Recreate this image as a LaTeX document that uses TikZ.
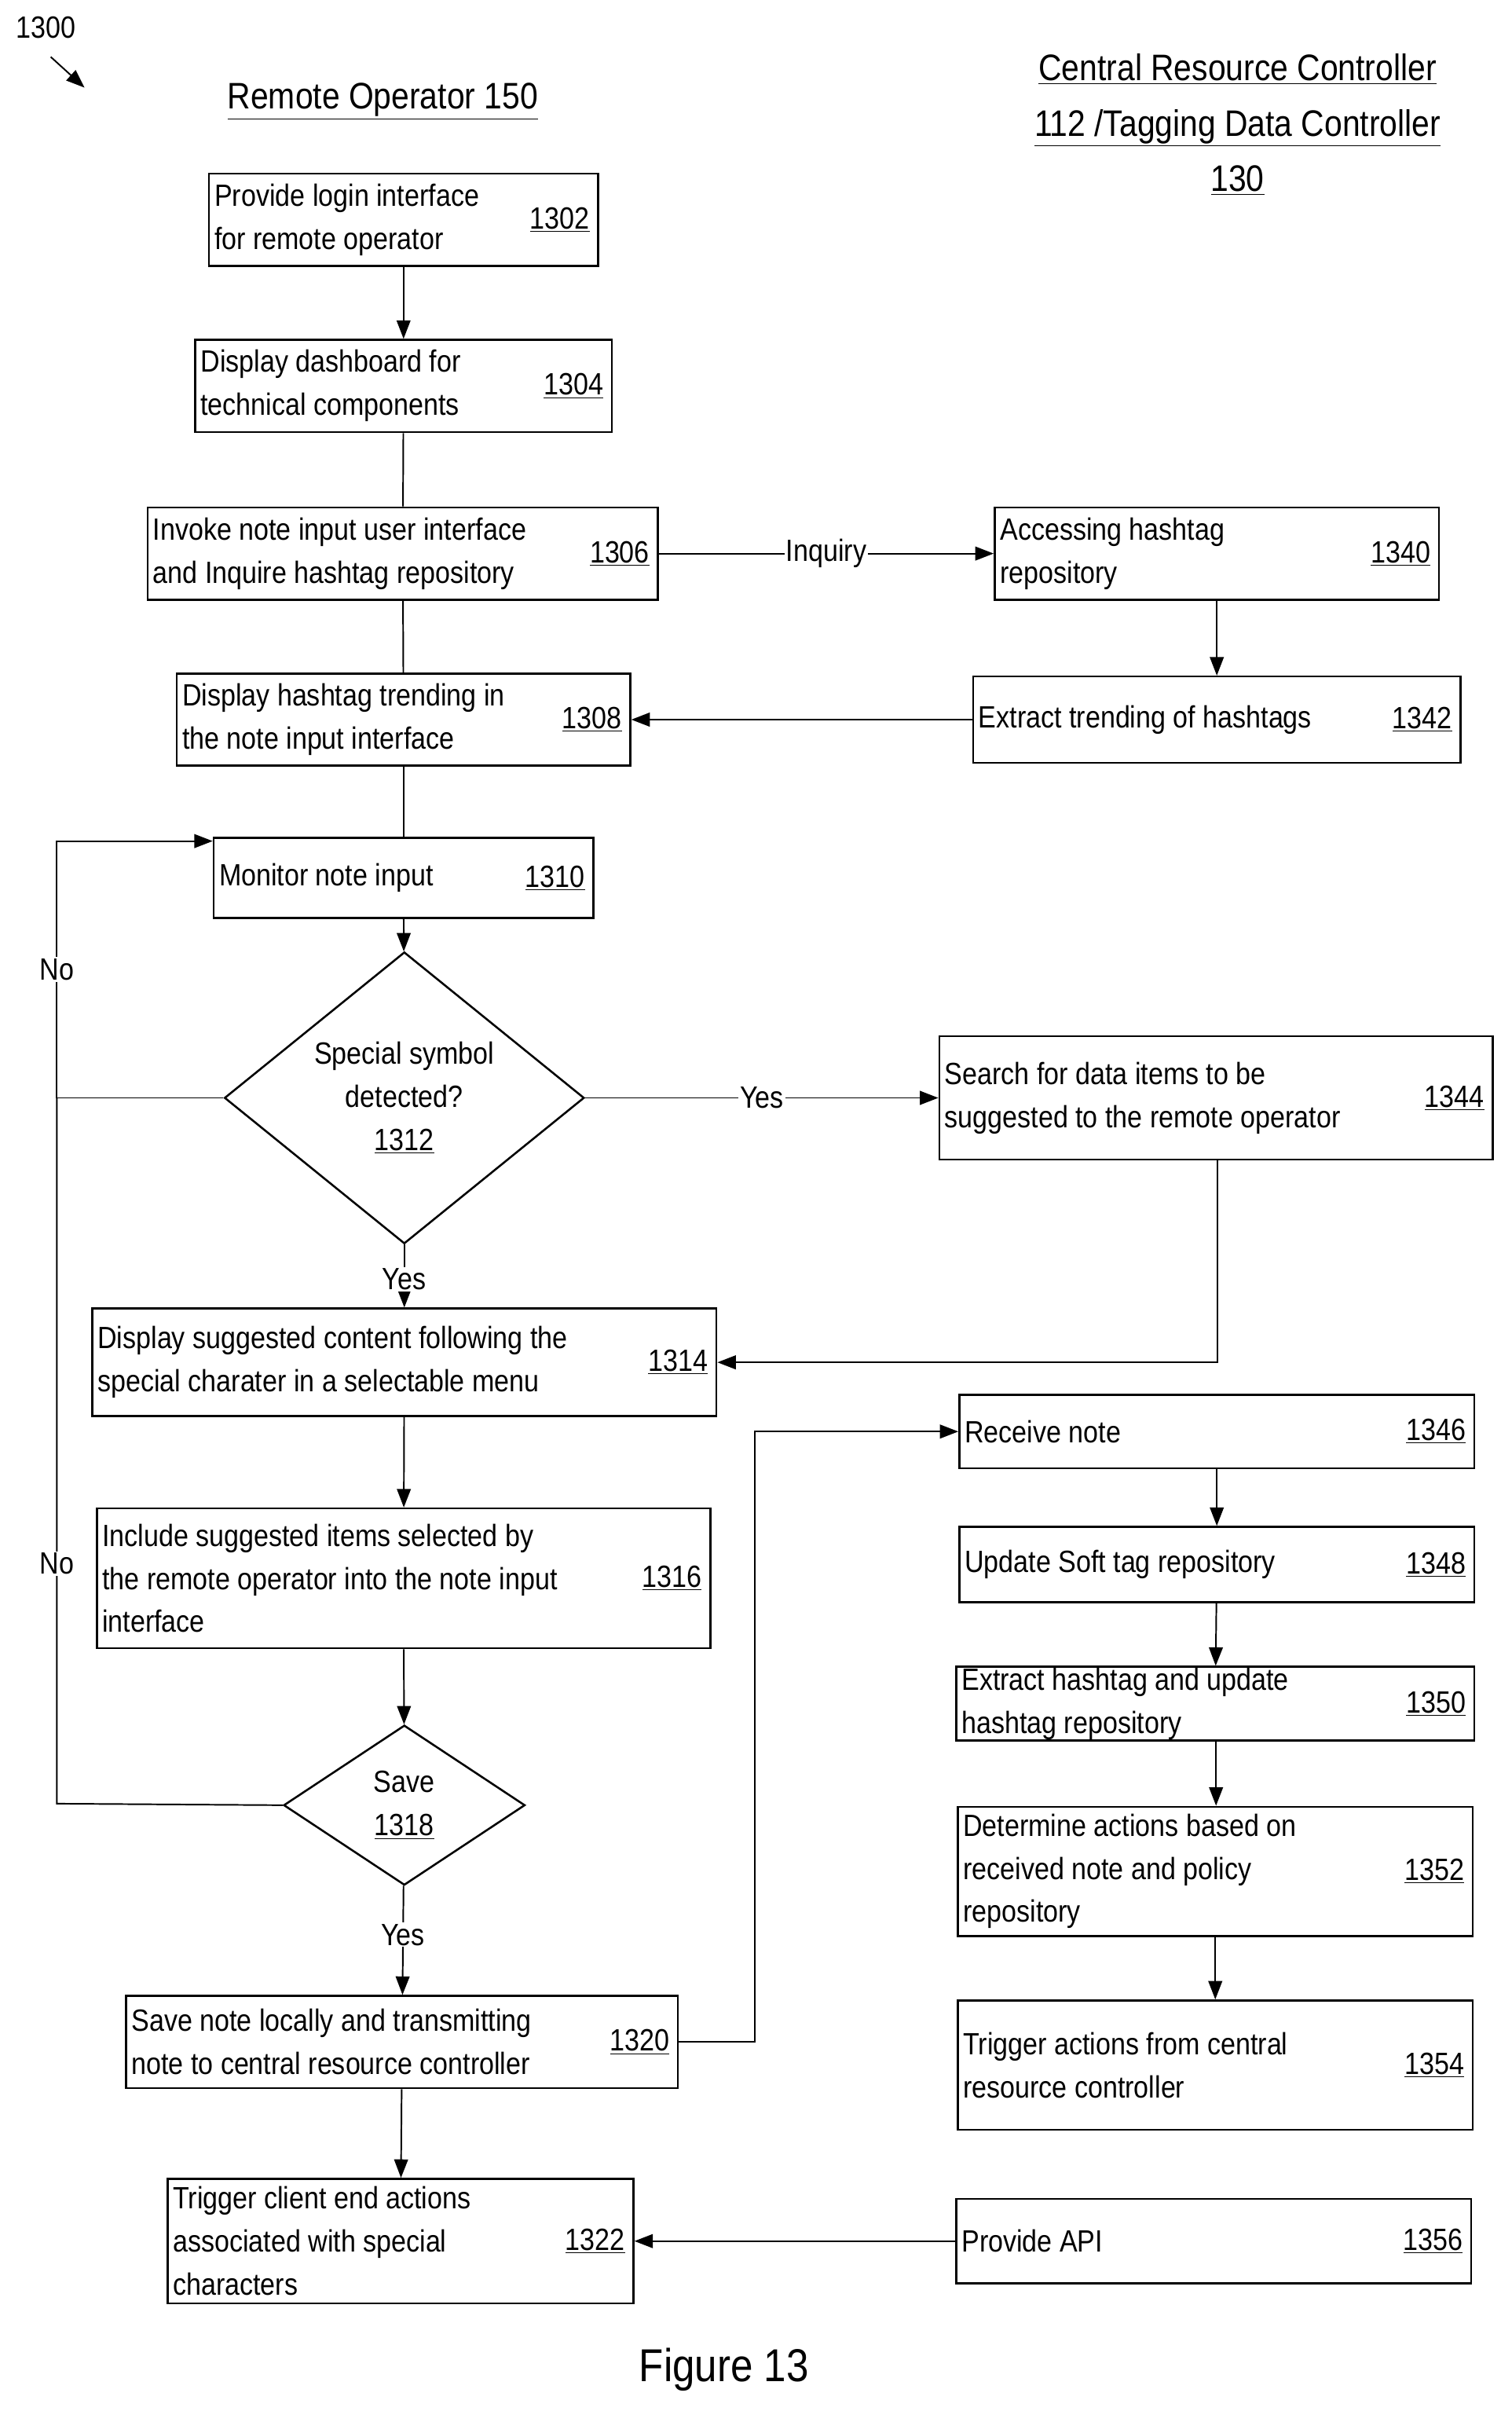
\documentclass[tikz,border=0pt]{standalone}
\usepackage{fontspec}
\setmainfont{Liberation Sans}[FakeStretch=0.87]
\usetikzlibrary{arrows.meta,shapes.geometric}
\tikzset{
 box/.style={draw,line width=1.3pt,rectangle,inner sep=0},
 dia/.style={draw,line width=1.3pt,diamond,inner sep=0},
 txt/.style={align=left,inner sep=0,anchor=west,font=\fontsize{20}{28}\selectfont},
 num/.style={inner sep=0,anchor=east,font=\fontsize{20}{28}\selectfont},
 ln/.style={line width=1pt},
 ar/.style={line width=1pt,-{Triangle[length=12pt,width=9pt]}},
 lab/.style={fill=white,inner sep=1pt,font=\fontsize{20}{28}\selectfont},
}
\newcommand\mybox[7]{%
 \node[box,minimum width={(#4-#2)*1pt},minimum height={(#5-#3)*1pt}] (#1) at ({(#2+#4)/2},{(#3+#5)/2}) {};
 \node[txt] at ([xshift=4pt]#1.west) {#6};
 \node[num] at ([xshift=-6pt]#1.east) {\underline{#7}};}
\begin{document}
\begin{tikzpicture}[x=1pt,y=-1pt]
\useasboundingbox (0,0) rectangle (983,1568);
\node[font=\fontsize{20}{24}\selectfont] (fig) at (30,18) {1300};
\coordinate (fa) at (33,37); \coordinate (fb) at (55,57);
\draw[ar] (fa) -- (fb);
\node[font=\fontsize{24}{30}\selectfont] (h1) at (249,66) {\underline{Remote Operator 150}};
\node[font=\fontsize{24}{36}\selectfont,align=center] (h2) at (805,81) {\underline{Central Resource Controller}\\\underline{112 /Tagging Data Controller}\\\underline{130}};
\mybox{b1302}{136}{113}{389}{173}{Provide login interface\\for remote operator}{1302}
\mybox{b1304}{127}{221}{398}{281}{Display dashboard for\\technical components}{1304}
\mybox{b1306}{96}{330}{428}{390}{Invoke note input user interface\\and Inquire hashtag repository}{1306}
\mybox{b1340}{647}{330}{936}{390}{Accessing hashtag\\repository}{1340}
\mybox{b1308}{115}{438}{410}{498}{Display hashtag trending in\\the note input interface}{1308}
\mybox{b1342}{633}{440}{950}{496}{Extract trending of hashtags}{1342}
\mybox{b1310}{139}{545}{386}{597}{Monitor note input}{1310}
\node[dia,minimum width=234pt,minimum height=140pt,align=center,font=\fontsize{20}{28}\selectfont] (d1312) at (263,714) {Special symbol\\detected?\\\underline{1312}};
\mybox{b1344}{611}{674}{971}{754}{Search for data items to be\\suggested to the remote operator}{1344}
\mybox{b1314}{60}{851}{466}{921}{Display suggested content following the\\special charater in a selectable menu}{1314}
\mybox{b1346}{624}{907}{959}{955}{Receive note}{1346}
\mybox{b1316}{63}{981}{462}{1072}{Include suggested items selected by\\the remote operator into the note input\\interface}{1316}
\mybox{b1348}{624}{993}{959}{1042}{Update Soft tag repository}{1348}
\mybox{b1350}{622}{1084}{959}{1132}{Extract hashtag and update\\hashtag repository}{1350}
\node[dia,minimum width=157pt,minimum height=104pt,align=center,font=\fontsize{20}{28}\selectfont] (d1318) at (263,1174) {Save\\\underline{1318}};
\mybox{b1352}{623}{1175}{958}{1259}{Determine actions based on\\received note and policy\\repository}{1352}
\mybox{b1320}{82}{1298}{441}{1358}{Save note locally and transmitting\\note to central resource controller}{1320}
\mybox{b1354}{623}{1301}{958}{1385}{Trigger actions from central\\resource controller}{1354}
\mybox{b1322}{109}{1417}{412}{1498}{Trigger client end actions\\associated with special\\characters}{1322}
\mybox{b1356}{622}{1430}{957}{1485}{Provide API}{1356}
\node[font=\fontsize{30}{36}\selectfont] (cap) at (471,1541) {Figure 13};
% connectors
\draw[ar] (b1302) -- (b1304);
\draw[ln] (b1304) -- (b1306);
\draw[ln] (b1306) -- (b1308);
\draw[ln] (b1308) -- (b1310);
\draw[ar] (b1310) -- (d1312);
\draw[ar] (b1306) -- node[lab]{Inquiry} (b1340);
\draw[ar] (b1340) -- (b1342);
\draw[ar] (b1342) -- (b1308);
\draw[ar] (d1312) -- node[lab]{Yes} (b1344);
\draw[ar] (d1312) -- node[lab,pos=0.55]{Yes} (b1314);
\draw[ar] (b1344.south -| 792,0) |- (b1314.east);
\draw[ar] (b1314) -- (b1316);
\draw[ar] (b1316) -- (d1318);
\draw[ar] (d1318) -- node[lab,pos=0.45]{Yes} (b1320);
\draw[ar] (b1320) -- (b1322);
\coordinate (j1) at (491,1328); \coordinate (j2) at (491,931);
\draw[ar] (b1320.east |- j1) -- (j1) -- (j2) -- (b1346.west |- j2);
\draw[ar] (b1346) -- (b1348);
\draw[ar] (b1348) -- (b1350);
\draw[ar] (b1350.south -| 791,0) -- (b1352.north -| 791,0);
\draw[ar] (b1352) -- (b1354);
\draw[ar] (b1356) -- (b1322);
\coordinate (n1) at (37,714); \coordinate (n2) at (37,547); \coordinate (n3) at (37,1173);
\draw[ar] (d1312.west) -- (n1) -- node[lab,pos=0.5]{No} (n2) -- (b1310.west |- n2);
\draw[ln] (d1318.west) -- (n3) -- node[lab,pos=0.34]{No} (n1);
\end{tikzpicture}
\end{document}
